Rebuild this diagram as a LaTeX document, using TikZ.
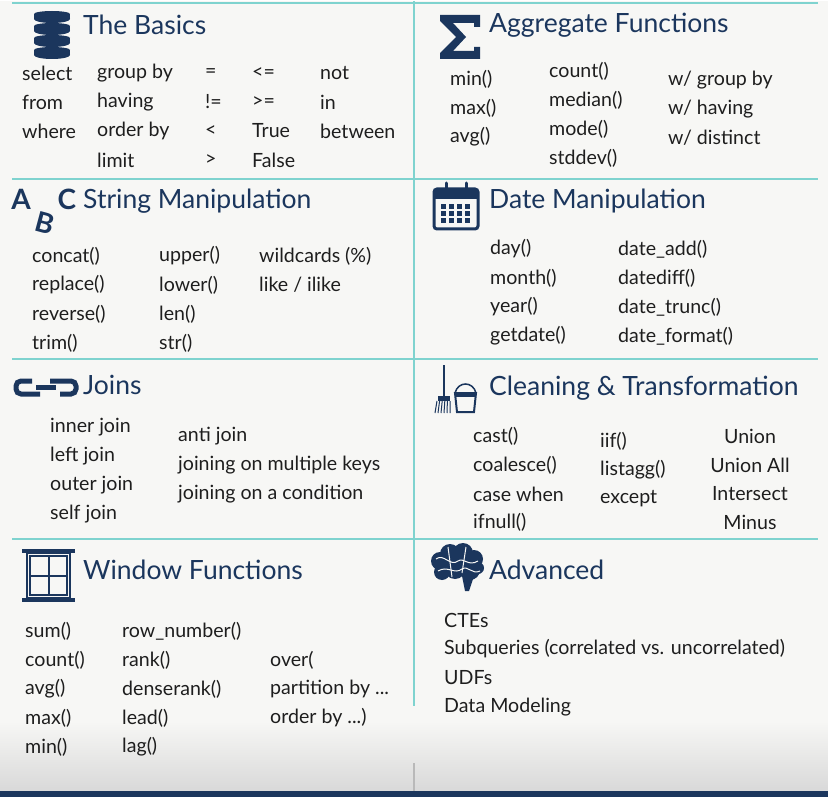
\documentclass[tikz,border=0pt]{standalone}
\usepackage{fontspec}
\setmainfont{Lato}
\begin{document}
\definecolor{navy}{HTML}{1B365D}
\definecolor{teal}{HTML}{7FD3CF}
\definecolor{bg}{HTML}{F7F7F5}
\definecolor{txt}{HTML}{1E1E1E}
\begin{tikzpicture}[x=1pt,y=-1pt,
  t/.style={anchor=west,inner sep=0pt,font=\fontsize{19.6}{22}\selectfont,text=txt},
  c/.style={inner sep=0pt,font=\fontsize{19.6}{22}\selectfont,text=txt},
  h/.style={anchor=west,inner sep=0pt,font=\fontsize{26.5}{30}\selectfont,text=navy},
  sep/.style={draw=teal,line width=2pt},
  ltr/.style={inner sep=0pt,text=navy,font=\fontsize{28}{30}\selectfont\bfseries}]
\fill[bg] (0,0) rectangle (828,796);
\shade[top color=bg,bottom color=gray!30] (0,720) rectangle (828,790);
\fill[navy] (0,790) rectangle (828,796);
% separators
\draw[sep] (12,2) -- (818,2);
\draw[sep] (12,178) -- (818,178);
\draw[sep] (12,358) -- (818,358);
\draw[sep] (12,538) -- (818,538);
\draw[sep] (414,0) -- (414,705);
\draw[gray!55,line width=1.5pt] (414,762) -- (414,790);
% ---- Basics
\foreach \yy in {13,25,37,49}{
  \fill[navy] (34,\yy) rectangle (70,\yy+5);
  \fill[navy] (52,\yy+5) ellipse (18 and 4);
  \fill[navy] (52,\yy) ellipse (18 and 3);}
\node[h] (hb) at (83,24) {The Basics};
\node[t] (b1) at (22,72) {select};
\node[t] (b2) at (22,101) {from};
\node[t] (b3) at (22,130) {where};
\node[t] (b4) at (97,72) {group by};
\node[t] (b5) at (97,101) {having};
\node[t] (b6) at (97,130) {order by};
\node[t] (b7) at (97,159) {limit};
\node[t] (b8) at (205,72) {=};
\node[t] (b9) at (205,101) {!=};
\node[t] (b10) at (205,130) {<};
\node[t] (b11) at (205,159) {>};
\node[t] (b12) at (252,72) {<=};
\node[t] (b13) at (252,101) {>=};
\node[t] (b14) at (252,130) {True};
\node[t] (b15) at (252,159) {False};
\node[t] (b16) at (320,72) {not};
\node[t] (b17) at (320,101) {in};
\node[t] (b18) at (320,130) {between};
% ---- Aggregate
\fill[navy] (440,14) -- (480,14) -- (480,26) -- (474,26) -- (474,22) -- (453,22) -- (466,36) -- (453,50) -- (474,50) -- (474,46) -- (480,46) -- (480,58) -- (440,58) -- (440,52) -- (456,36) -- (440,20) -- cycle;
\node[h] (ha) at (489,24) {Aggregate Functions};
\node[t] (a1) at (450,78) {min()};
\node[t] (a2) at (450,107) {max()};
\node[t] (a3) at (450,136) {avg()};
\node[t] (a4) at (549,70) {count()};
\node[t] (a5) at (549,99) {median()};
\node[t] (a6) at (549,128) {mode()};
\node[t] (a7) at (549,157) {stddev()};
\node[t] (a8) at (668,79) {w/ group by};
\node[t] (a9) at (668,108) {w/ having};
\node[t] (a10) at (668,137) {w/ distinct};
% ---- String
\node[ltr] (iA) at (21,198) {A};
\node[ltr,rotate=-15] (iB) at (45,222) {B};
\node[ltr] (iC) at (67,198) {C};
\node[h] (hs) at (83,200) {String Manipulation};
\node[t] (s1) at (32,255) {concat()};
\node[t] (s2) at (32,284) {replace()};
\node[t] (s3) at (32,313) {reverse()};
\node[t] (s4) at (32,342) {trim()};
\node[t] (s5) at (159,255) {upper()};
\node[t] (s6) at (159,284) {lower()};
\node[t] (s7) at (159,313) {len()};
\node[t] (s8) at (159,342) {str()};
\node[t] (s9) at (259,255) {wildcards (\%)};
\node[t] (s10) at (259,284) {like / ilike};
% ---- Date
\draw[navy,line width=3pt,rounded corners=3pt] (434,188) rectangle (478,228);
\fill[navy] (434,188) rectangle (478,198);
\draw[navy,line width=3pt,line cap=round] (446,182) -- (446,191) (466,182) -- (466,191);
\foreach \i in {0,1,2,3}{\foreach \j in {0,1,2}{\fill[navy] (441+\i*8,203+\j*7) rectangle (446+\i*8,208+\j*7);}}
\node[h] (hd) at (489,200) {Date Manipulation};
\node[t] (d1) at (490,248) {day()};
\node[t] (d2) at (490,277) {month()};
\node[t] (d3) at (490,306) {year()};
\node[t] (d4) at (490,335) {getdate()};
\node[t] (d5) at (618,248) {date\_add()};
\node[t] (d6) at (618,277) {datediff()};
\node[t] (d7) at (618,306) {date\_trunc()};
\node[t] (d8) at (618,335) {date\_format()};
% ---- Joins
\draw[navy,line width=5pt,rounded corners=5pt] (32,380) -- (16,380) -- (16,393) -- (40,393);
\draw[navy,line width=5pt] (36,386) -- (56,386);
\draw[navy,line width=5pt,rounded corners=5pt] (50,380) -- (76,380) -- (76,393) -- (60,393);
\node[h] (hj) at (83,384) {Joins};
\node[t] (j1) at (50,426) {inner join};
\node[t] (j2) at (50,455) {left join};
\node[t] (j3) at (50,484) {outer join};
\node[t] (j4) at (50,513) {self join};
\node[t] (j5) at (178,435) {anti join};
\node[t] (j6) at (178,464) {joining on multiple keys};
\node[t] (j7) at (178,493) {joining on a condition};
% ---- Cleaning
\draw[navy,line width=2pt] (444,364) -- (444,395);
\fill[navy] (438,395) rectangle (450,400);
\foreach \k in {0,...,5}{\draw[navy,line width=1pt] (437+\k*2.6,400) -- (435+\k*3,412);}
\draw[navy,line width=2pt] (455,392) -- (457,411) -- (474,411) -- (476,392) -- cycle;
\draw[navy,line width=1.5pt] (455,392) .. controls (458,380) and (473,380) .. (476,392);
\fill[navy] (455,392) rectangle (476,396);
\node[h] (hc) at (489,387) {Cleaning \& Transformation};
\node[t] (c1) at (473,435) {cast()};
\node[t] (c2) at (473,464) {coalesce()};
\node[t] (c3) at (473,493) {case when};
\node[t] (c4) at (473,521) {ifnull()};
\node[t] (c5) at (600,440) {iif()};
\node[t] (c6) at (600,469) {listagg()};
\node[t] (c7) at (600,498) {except};
\node[c] (c8) at (750,435) {Union};
\node[c] (c9) at (750,464) {Union All};
\node[c] (c10) at (750,493) {Intersect};
\node[c] (c11) at (750,521) {Minus};
% ---- Window
\fill[navy] (22,548) rectangle (75,552);
\fill[navy] (22,597) rectangle (75,601);
\draw[navy,line width=2pt] (27,552) rectangle (70,597);
\draw[navy,line width=1.5pt] (30,555) rectangle (67,594);
\draw[navy,line width=2pt] (48.5,555) -- (48.5,594) (30,574.5) -- (67,574.5);
\node[h] (hw) at (83,569) {Window Functions};
\node[t] (w1) at (25,630) {sum()};
\node[t] (w2) at (25,659) {count()};
\node[t] (w3) at (25,688) {avg()};
\node[t] (w4) at (25,717) {max()};
\node[t] (w5) at (25,746) {min()};
\node[t] (w6) at (122,630) {row\_number()};
\node[t] (w7) at (122,659) {rank()};
\node[t] (w8) at (122,688) {denserank()};
\node[t] (w9) at (122,717) {lead()};
\node[t] (w10) at (122,746) {lag()};
\node[t] (w11) at (270,659) {over(};
\node[t] (w12) at (270,688) {partition by ...};
\node[t] (w13) at (270,717) {order by ...)};
% ---- Advanced
\foreach \px/\py/\r in {440/560/9,450/553/10,463/552/10,474/558/9,442/571/8,455/567/11,470/569/10,478/567/6}{\fill[navy] (\px,\py) circle (\r);}
\fill[navy] (462,575) -- (474,575) -- (469,590) -- (465,590) -- cycle;
\draw[bg,line width=1pt] (436,558) .. controls (444,552) and (450,566) .. (458,560) .. controls (464,556) and (468,566) .. (478,560);
\draw[bg,line width=1pt] (438,570) .. controls (448,564) and (454,574) .. (462,568) .. controls (468,564) and (472,574) .. (480,570);
\draw[bg,line width=1pt] (448,546) -- (452,576) (466,546) -- (462,572);
\node[h] (hv) at (489,569) {Advanced};
\node[t] (v1) at (444,619) {CTEs};
\node[t] (v2) at (444,648) {Subqueries (correlated vs. uncorrelated)};
\node[t] (v3) at (444,677) {UDFs};
\node[t] (v4) at (444,706) {Data Modeling};
\end{tikzpicture}
\end{document}
